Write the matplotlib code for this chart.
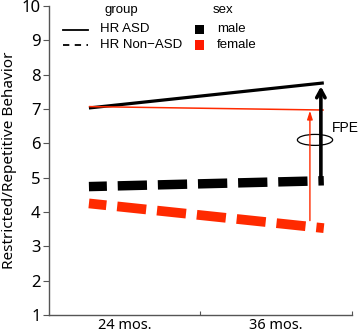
import matplotlib
matplotlib.use("Agg")
import matplotlib.pyplot as plt
from matplotlib.lines import Line2D
from matplotlib.patches import Rectangle, Ellipse

# ---- data ----
timepoints = [24, 36]
tick_labels = ["24 mos.", "36 mos."]
asd_male = [7.03, 7.76]
asd_female = [7.07, 6.97]
nonasd_male = [4.74, 4.91]
nonasd_female = [4.25, 3.53]

group_labels = ["HR ASD", "HR Non\u2212ASD"]
sex_labels = ["male", "female"]

# FPE annotation values
fpe_male_x = 35.85
fpe_male_from, fpe_male_to = 5.0, 7.66
fpe_female_x = 35.29
fpe_female_from, fpe_female_to = 3.75, 6.95
fpe_ellipse_center = (35.55, 6.1)

RED = "#ff2a00"
LEGRED = "#ff1a00"

# ---- layout ----
W, H = 358, 334
fig = plt.figure(figsize=(W / 100, H / 100), dpi=100)
ax = fig.add_axes([49 / W, (334 - 315) / H, (352 - 49) / W, (315 - 6) / H])

xlo, xhi = 21.96, 37.44
ax.set_xlim(xlo, xhi)
ax.set_ylim(1, 10)

# lines
ax.plot(timepoints, asd_male, color="black", lw=2.3, solid_capstyle="butt")
ax.plot(timepoints, asd_female, color=RED, lw=1.1, solid_capstyle="butt")
ax.plot(timepoints, nonasd_male, color="black", lw=6.8,
        linestyle=(1.2, (3.1, 1.15)), dash_capstyle="butt")
ax.plot(timepoints, nonasd_female, color=RED, lw=7.0,
        linestyle=(1.2, (3.0, 1.12)), dash_capstyle="butt")

# arrows
ax.annotate("", xy=(fpe_male_x, fpe_male_to), xytext=(fpe_male_x, fpe_male_from),
            arrowprops=dict(arrowstyle="->,head_length=0.55,head_width=0.3",
                            color="black", lw=2.6, shrinkA=0, shrinkB=0))
ax.annotate("", xy=(fpe_female_x, fpe_female_to), xytext=(fpe_female_x, fpe_female_from),
            arrowprops=dict(arrowstyle="-|>,head_length=0.5,head_width=0.16",
                            color=RED, lw=1.0, shrinkA=0, shrinkB=0))
ax.add_patch(Ellipse(fpe_ellipse_center, width=1.8, height=0.32, fill=False,
                     edgecolor="black", lw=0.9))
ax.text(36.4, 6.45, "FPE", fontsize=10, family="Liberation Sans",
        va="center", ha="left")

# axes styling
for s in ["top", "right"]:
    ax.spines[s].set_visible(False)
for s in ["left", "bottom"]:
    ax.spines[s].set_color("#555555")
    ax.spines[s].set_linewidth(1.0)

step = (xhi - xlo) / 2
ax.set_xticks([xlo + step, xhi])
ax.set_xticklabels([])
ax.set_xticks([xlo + step / 2, xlo + 1.5 * step], minor=True)
ax.set_xticklabels(tick_labels, minor=True, fontsize=10.5, family="Noto Sans")
ax.tick_params(axis="x", which="major", direction="in", length=3, color="#555555")
ax.tick_params(axis="x", which="minor", length=0, pad=2)
ax.set_yticks(range(1, 11))
ax.tick_params(axis="y", direction="out", length=4, color="#555555", pad=2)
for lab in ax.get_yticklabels():
    lab.set_fontsize(12)
    lab.set_family("Noto Sans")
ax.set_ylabel("Restricted/Repetitive Behavior", fontsize=11, family="Noto Sans",
              labelpad=3)

# ---- legends (drawn as guides in figure pixel coordinates) ----
def fx(px):
    return px / W

def fy(py):
    return 1 - py / H

LF = dict(family="Liberation Sans", fontsize=9.5, va="center", ha="left")
row_y = [29.5, 45]

fig.text(fx(121), fy(10), "group", ha="center", va="center",
         family="Liberation Sans", fontsize=9.5)
group_styles = [dict(linestyle="-"), dict(dashes=(3.5, 3.0))]
for lab, yy, st in zip(group_labels, row_y, group_styles):
    fig.add_artist(Line2D([fx(63), fx(88)], [fy(yy), fy(yy)], color="black",
                          lw=1.3, transform=fig.transFigure, **st))
    fig.text(fx(100), fy(yy), lab, **LF)

fig.text(fx(223), fy(10), "sex", ha="center", va="center",
         family="Liberation Sans", fontsize=9.5)
for lab, yy, col in zip(sex_labels, row_y, ["black", LEGRED]):
    fig.add_artist(Rectangle((fx(195), fy(yy + 4.5)), 9 / W, 9 / H, color=col,
                             lw=0, transform=fig.transFigure))
    fig.text(fx(217), fy(yy), lab, **LF)

fig.savefig("out.png", dpi=100)
